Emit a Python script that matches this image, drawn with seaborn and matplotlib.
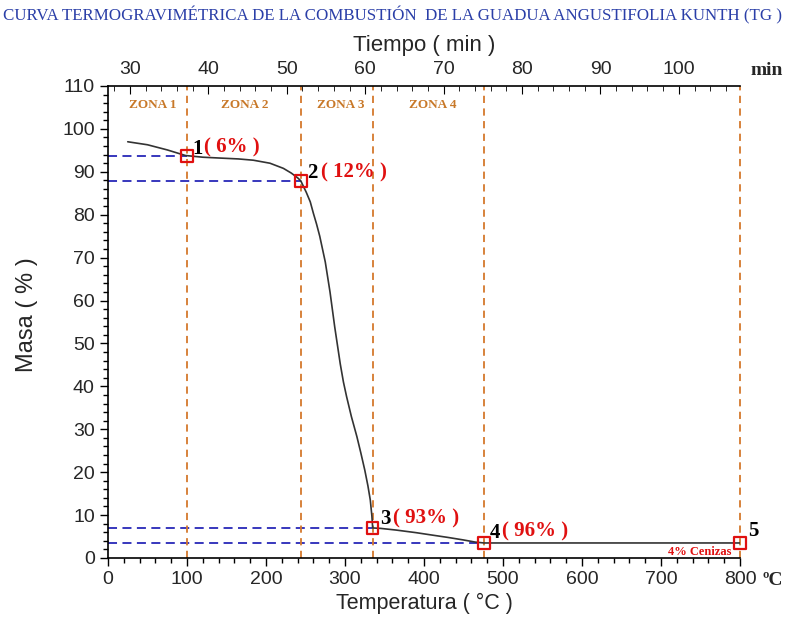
import matplotlib
matplotlib.use("Agg")
import matplotlib.pyplot as plt
import seaborn as sns
import pandas as pd
from matplotlib.ticker import MultipleLocator

# ---- data ----
temp = [25, 50, 75, 98, 120, 142, 165, 184, 205, 222, 232, 240, 244, 251, 256,
        260, 264, 268, 275, 281, 287, 294, 298, 302, 308, 315, 320, 325, 329,
        332, 334, 335, 345, 365, 390, 408, 430, 450, 465, 476, 560, 700, 800]
mass = [97.0, 96.3, 95.1, 93.8, 93.4, 93.2, 93.0, 92.7, 92.0, 90.8, 89.7, 88.6,
        87.9, 85.2, 83.0, 80.3, 77.8, 75.0, 69.0, 62.0, 53.8, 45.2, 41.0, 37.6,
        33.0, 28.3, 24.5, 20.5, 16.8, 13.5, 9.8, 7.0, 6.9, 6.5, 5.9, 5.4, 4.8,
        4.2, 3.7, 3.5, 3.5, 3.5, 3.5]
pt_temp = [100, 244, 335, 476, 800]
pt_mass = [93.7, 87.9, 7.0, 3.5, 3.5]
pt_num = ["1", "2", "3", "4", "5"]
pt_pct = ["( 6% )", "( 12% )", "( 93% )", "( 96% )", ""]
zone_names = ["ZONA 1", "ZONA 2", "ZONA 3", "ZONA 4"]
zone_x = [57, 173, 295, 411]
time_lim = [27.2, 107.8]

tick_font = "Liberation Sans"
serif = "Liberation Serif"

sns.set_style("white")
plt.rcParams["font.family"] = ["Liberation Sans", "DejaVu Sans"]

fig = plt.figure(figsize=(7.85, 6.29), dpi=100)
ax = fig.add_axes([0.1376, 0.1129, 0.8051, 0.7504])

df = pd.DataFrame({"T": temp, "M": mass})
sns.lineplot(data=df, x="T", y="M", ax=ax, color="#333333", lw=1.2, zorder=3)

# guide lines
for t, m in zip(pt_temp, pt_mass):
    if t < 800:
        ax.plot([0, t], [m, m], color="#2828b8", lw=1.3, ls=(0, (5, 3)), zorder=2)
for t in pt_temp:
    ax.plot([t, t], [0, 110], color="#d4782c", lw=1.3, ls=(0, (4, 3)), zorder=2, clip_on=False)

pdf = pd.DataFrame({"T": pt_temp, "M": pt_mass})
sns.scatterplot(data=pdf, x="T", y="M", ax=ax, marker="s", s=70, facecolor="none",
                edgecolor="#e01010", linewidth=1.6, zorder=5, clip_on=False)

ax.set_xlim(0, 800)
ax.set_ylim(0, 110)
ax.xaxis.set_major_locator(MultipleLocator(100))
ax.xaxis.set_minor_locator(MultipleLocator(20))
ax.yaxis.set_major_locator(MultipleLocator(10))
ax.yaxis.set_minor_locator(MultipleLocator(2))
ax.tick_params(which="both", direction="out", color="black", width=1)
ax.tick_params(which="major", length=6, labelsize=14)
ax.tick_params(which="minor", length=3.5)
ax.tick_params(axis="x", bottom=True, which="both")
ax.tick_params(axis="y", left=True, which="both")
for lab in ax.get_xticklabels() + ax.get_yticklabels():
    lab.set_fontfamily(tick_font)
ax.set_xlabel("")
ax.set_ylabel("")
for s in ["right", "top"]:
    ax.spines[s].set_visible(False)
for s in ["left", "bottom"]:
    ax.spines[s].set_color("black")
    ax.spines[s].set_linewidth(1.2)

ax2 = ax.twiny()
ax2.set_xlim(*time_lim)
ax2.xaxis.set_major_locator(MultipleLocator(10))
ax2.xaxis.set_minor_locator(MultipleLocator(2))
ax2.tick_params(which="both", direction="in", top=True, color="black")
ax2.tick_params(which="major", length=6, labelsize=14, pad=6)
ax2.tick_params(which="minor", length=3.5)
for lab in ax2.get_xticklabels():
    lab.set_fontfamily(tick_font)
for s in ["left", "right", "bottom"]:
    ax2.spines[s].set_visible(False)
ax2.spines["top"].set_color("black")
ax2.spines["top"].set_linewidth(1.2)
ax2.grid(False)

# annotations
for zx, zn in zip(zone_x, zone_names):
    ax.text(zx, 105.5, zn, color="#c87828", fontsize=9.5, fontweight="bold",
            family=serif, ha="center", va="center")
num_pos = [(107, 95.3), (252, 89.8), (344, 9.0), (483, 5.9), (810, 6.3)]
pct_pos = [(121, 95.6), (269, 89.8), (361, 9.3), (499, 6.2), (0, 0)]
for (nx, ny), (px, py), n, p in zip(num_pos, pct_pos, pt_num, pt_pct):
    ax.text(nx, ny, n, color="black", fontsize=15, fontweight="bold", family=serif,
            ha="left", va="center", clip_on=False)
    if p:
        ax.text(px, py, p, color="#e01010", fontsize=15, fontweight="bold", family=serif,
                ha="left", va="center", clip_on=False)
ax.text(789, 1.5, "4% Cenizas", color="#e01010", fontsize=9, fontweight="bold",
        family=serif, ha="right", va="center")

fig.text(0.5, 0.975, "CURVA TERMOGRAVIMÉTRICA DE LA COMBUSTIÓN  DE LA GUADUA ANGUSTIFOLIA KUNTH (TG )",
         color="#2b3fa8", fontsize=12.2, family=serif, ha="center", va="center")
fig.text(0.541, 0.928, "Tiempo ( min )", fontsize=16, family=tick_font, ha="center", va="center")
fig.text(0.541, 0.041, "Temperatura ( °C )", fontsize=15.5, family=tick_font, ha="center", va="center")
fig.text(0.034, 0.5, "Masa ( % )", fontsize=17, family=tick_font, ha="center", va="center", rotation=90)
fig.text(0.977, 0.888, "min", fontsize=14, fontweight="bold", family=serif, ha="center", va="center")
fig.text(0.985, 0.077, "ºC", fontsize=14, fontweight="bold", family=serif, ha="center", va="center")

fig.savefig("out.png", dpi=100)
